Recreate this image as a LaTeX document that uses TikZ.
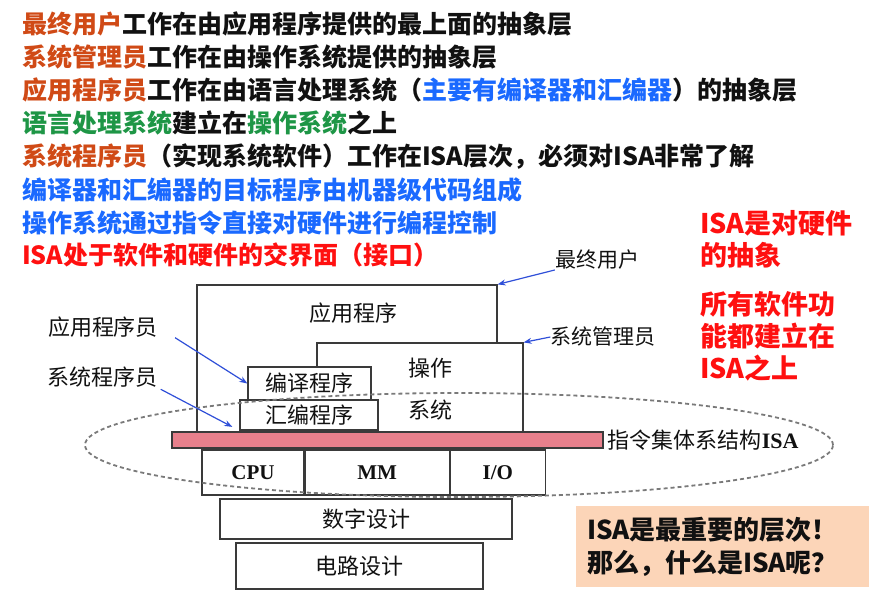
\documentclass[tikz,border=0pt]{standalone}
\usepackage{fontspec}
\setmainfont{Noto Sans CJK SC}
\newfontfamily\latinser{Liberation Serif}
\usetikzlibrary{arrows.meta,positioning}
\definecolor{ink}{HTML}{111111}
\definecolor{edge}{HTML}{3A3A3A}
\definecolor{orng}{HTML}{D04A16}
\definecolor{grn}{HTML}{1E9646}
\definecolor{blu}{HTML}{1A69FF}
\definecolor{rd}{HTML}{FF1010}
\definecolor{isafill}{HTML}{E8808C}
\definecolor{peach}{HTML}{FCD5B8}
\definecolor{ringc}{HTML}{7A7A7A}
\definecolor{ptrc}{HTML}{2F4FD8}
\tikzset{
  head/.style={anchor=west,inner sep=0pt,font=\fontsize{25}{30}\selectfont\bfseries,text=ink},
  layerbox/.style={draw=edge,fill=white,line width=1.2pt,inner sep=0pt},
  lbl/.style={font=\fontsize{22}{26}\selectfont,text=ink,inner sep=0pt},
  side/.style={lbl,font=\fontsize{21}{25}\selectfont},
  hw/.style={font=\latinser\bfseries\fontsize{21}{24}\selectfont,text=ink},
  note/.style={anchor=west,align=left,inner sep=0pt,font=\fontsize{27}{32}\selectfont\bfseries,text=rd},
  ptr/.style={-{Stealth[length=8pt,width=6pt]},line width=1.2pt,color=ptrc},
  ring/.style={draw=ringc,dash pattern=on 4pt off 3pt,line width=1.8pt}
}
\begin{document}
\begin{tikzpicture}[x=1pt,y=-1pt]
  \useasboundingbox (0,0) rectangle (892,613);
  % statements
  \node[head] (l1) at (22,24) {\textcolor{orng}{最终用户}工作在由应用程序提供的最上面的抽象层};
  \node[head] (l2) at (22,57) {\textcolor{orng}{系统管理员}工作在由操作系统提供的抽象层};
  \node[head] (l3) at (22,90) {\textcolor{orng}{应用程序员}工作在由语言处理系统（\textcolor{blu}{主要有编译器和汇编器}）的抽象层};
  \node[head] (l4) at (22,123) {\textcolor{grn}{语言处理系统}建立在\textcolor{grn}{操作系统}之上};
  \node[head] (l5) at (22,157) {\textcolor{orng}{系统程序员}（实现系统软件）工作在ISA层次，必须对ISA非常了解};
  \node[head,text=blu] (l6) at (22,190) {编译器和汇编器的目标程序由机器级代码组成};
  \node[head,text=blu] (l7) at (22,223) {操作系统通过指令直接对硬件进行编程控制};
  \node[head,text=rd] (l8) at (22,255) {ISA处于软件和硬件的交界面（接口）};
  % software layers
  \node[layerbox,minimum width=300pt,minimum height=147pt] (app) at (347,358.5) {};
  \node[lbl] (appt) at (353,313) {应用程序};
  \node[layerbox,minimum width=206pt,minimum height=89pt] (os) at (420,387.5) {};
  \node[lbl] (ost1) at (430,368) {操作};
  \node[lbl] (ost2) at (430,410) {系统};
  \node[layerbox,lbl,minimum width=123pt,minimum height=33pt] (comp) at (309.5,383.5) {编译程序};
  \node[layerbox,lbl,minimum width=138pt,minimum height=30pt] (asm) at (309,415) {汇编程序};
  \node[layerbox,fill=isafill,minimum width=431pt,minimum height=16pt] (isa) at (387.5,440) {};
  \node[lbl,right=4pt of isa] (isat) {指令集体系结构{\latinser\bfseries ISA}};
  % hardware layers
  \node[layerbox,hw,minimum width=102pt,minimum height=45pt] (cpu) at (253,472.5) {CPU};
  \node[layerbox,hw,minimum width=144pt,minimum height=45pt,right=0pt of cpu] (mm) {MM};
  \node[layerbox,hw,minimum width=95pt,minimum height=45pt,right=0pt of mm] (io) {I/O};
  \node[layerbox,lbl,minimum width=292pt,minimum height=40pt] (dig) at (366,519) {数字设计};
  \node[layerbox,lbl,minimum width=247pt,minimum height=46pt] (circ) at (359.5,566) {电路设计};
  \draw[ring] (459,445) ellipse [x radius=374pt,y radius=52pt];
  % who works where
  \node[lbl] (appprog) at (103,327) {应用程序员};
  \node[lbl] (sysprog) at (102,377) {系统程序员};
  \node[side] (enduser) at (597,260) {最终用户};
  \node[side] (sysadm) at (603,337) {系统管理员};
  \draw[ptr,shorten <=20pt] (appprog.east) -- (comp.west);
  \draw[ptr,shorten <=4pt,shorten >=8pt] (sysprog.south east) -- (asm.south west);
  \draw[ptr] (enduser.south west) -- (app.north east);
  \draw[ptr] (sysadm.west) -- (os.north east);
  % remarks
  \node[note] (n1) at (700,239) {ISA是对硬件\\的抽象};
  \node[note] (n2) at (700,336) {所有软件功\\能都建立在\\ISA之上};
  \node[fill=peach,minimum width=293pt,minimum height=81pt,text width=271pt,inner xsep=11pt,
    align=left,font=\fontsize{26}{33}\selectfont\bfseries,text=ink] (q) at (722.5,546.5)
    {ISA是最重要的层次！\\那么，什么是ISA呢？};
\end{tikzpicture}
\end{document}
